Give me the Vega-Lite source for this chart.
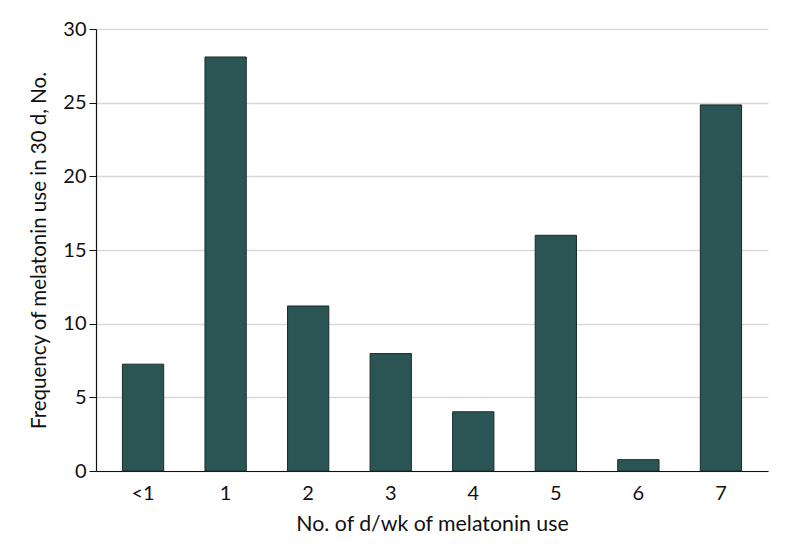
{
  "$schema": "https://vega.github.io/schema/vega-lite/v6.json",
  "autosize": "none",
  "width": 672,
  "height": 442,
  "padding": {"left": 96, "top": 29, "right": 26, "bottom": 85},
  "background": "white",
  "config": {
    "view": {"stroke": null},
    "font": "Lato"
  },
  "data": {
    "values": [
      {"days": "<1", "freq": 7.25},
      {"days": "1", "freq": 28.1},
      {"days": "2", "freq": 11.2},
      {"days": "3", "freq": 7.97},
      {"days": "4", "freq": 4.02},
      {"days": "5", "freq": 16.0},
      {"days": "6", "freq": 0.77},
      {"days": "7", "freq": 24.85}
    ]
  },
  "mark": {"type": "bar", "color": "#2b5454", "stroke": "#1a2a2a", "strokeWidth": 1},
  "encoding": {
    "x": {
      "field": "days",
      "type": "ordinal",
      "sort": null,
      "scale": {"paddingInner": 0.5, "paddingOuter": 0.32},
      "axis": {
        "title": "No. of d/wk of melatonin use",
        "labelAngle": 0,
        "ticks": false,
        "labelPadding": 12,
        "labelFontSize": 20,
        "labelColor": "#111111",
        "titleFontSize": 21.3,
        "titleFontWeight": "normal",
        "titleColor": "#111111",
        "titlePadding": 10,
        "domainColor": "#111111",
        "domainWidth": 1.2
      }
    },
    "y": {
      "field": "freq",
      "type": "quantitative",
      "scale": {"domain": [0, 30]},
      "axis": {
        "title": "Frequency of melatonin use in 30 d, No.",
        "values": [0, 5, 10, 15, 20, 25, 30],
        "tickSize": 7,
        "tickColor": "#111111",
        "labelPadding": 3,
        "labelFontSize": 20,
        "labelColor": "#111111",
        "titleFontSize": 20.5,
        "titleFontWeight": "normal",
        "titleColor": "#111111",
        "titlePadding": 13,
        "domainColor": "#111111",
        "domainWidth": 1.2,
        "grid": true,
        "gridColor": "#d9d9d9",
        "gridWidth": 1.5
      }
    }
  }
}
